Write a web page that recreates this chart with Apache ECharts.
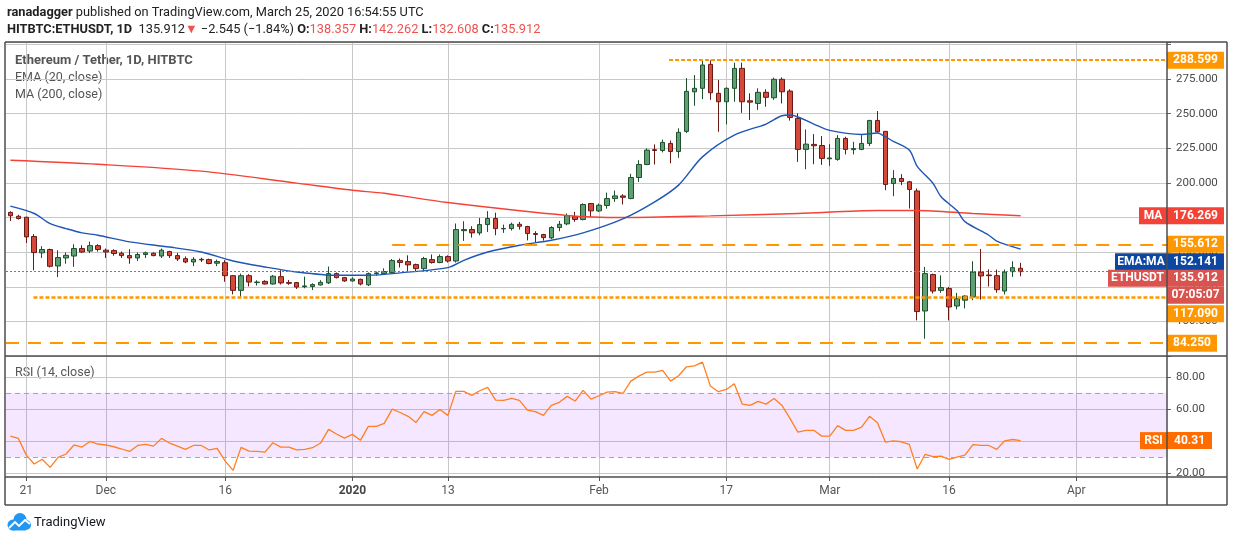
<!DOCTYPE html>
<html>
<head>
<meta charset="utf-8">
<title>Ethereum / Tether, 1D, HITBTC</title>
<script src="https://cdn.jsdelivr.net/npm/echarts@6/dist/echarts.min.js"></script>
<style>
html, body { margin: 0; padding: 0; background: #fff; }
#chart { width: 1234px; height: 541px; }
</style>
</head>
<body>
<div id="chart"></div>
<script>
var chart = echarts.init(document.getElementById('chart'));

// one candle per day, starting here
var firstDay = '2019-11-19';

var opens = [178.7, 175.9, 175.2, 161.3, 149.5, 151.9, 140, 145.8, 147.2, 152.6, 150.8, 154.7,
    151.4, 151.1, 149.2, 147.5, 145.8, 148.3, 149.2, 147.2, 150.4, 147.5, 145.3, 142.9, 144.8, 144.6, 142,
    142.4, 133, 122.4, 133, 128, 128.9, 127, 132.3, 128, 128, 125, 125.2, 126.3, 127.8, 134.5, 131.6,
    129.2, 130.4, 126.4, 134.5, 134.5, 135.2, 143.9, 143.2, 141, 138.1, 144.6, 142.5, 146.8, 143.6, 165.5,
    166.3, 163.9, 169.9, 174.3, 166.8, 167, 170.1, 168.5, 163.4, 162.7, 160.3, 167.8, 170.4, 175.7, 173.6, 185.1,
    179.8, 183.7, 188.7, 190.6, 188.7, 203.9, 213.3, 224, 223.4, 228.5, 222.7, 237.2, 265.8, 268.3, 285.6,
    264.7, 258.6, 268.3, 282.7, 259.3, 257.4, 265.4, 261.5, 274.8, 266.3, 246.6, 224.2, 227.8, 227,
    217.4, 217, 232.1, 224, 224.2, 228.5, 245.1, 237.2, 199.6, 203.2, 200.8, 194.2, 107.5, 133.8, 122.4,
    123.7, 111.1, 115.3, 117.6, 135.6, 133.5, 133, 121.9, 135.9, 138.357];
var highs = [179.5, 177, 175.5, 163, 154.3, 152.5, 151.4, 149.8, 155.7, 155, 157.6, 155.7,
    152.6, 152.1, 150.5, 152.1, 149.8, 150.4, 149.8, 152.6, 151, 149.5, 146.9, 146.4, 146, 145.3, 144.6,
    144.2, 133.5, 134.5, 134.1, 129.7, 129.7, 133.5, 136.9, 129.9, 128.5, 132.3, 127.5, 129.7, 139.6, 135.3, 132.1,
    131.8, 130.8, 135.3, 136, 138.3, 145, 145.4, 147.7, 141.7, 146.6, 148.3, 148.3, 147.7, 170.7, 172.3,
    168.7, 174.7, 179.6, 178.5, 169.9, 171.3, 171.8, 169, 165.1, 163.2, 168.7, 172.5, 177.9, 179.1, 185.2, 185.5,
    185.1, 193, 194.5, 191.8, 206.6, 216.4, 224.9, 227.8, 231.3, 230.6, 239.4, 275.7, 277.9, 288.2, 288.6,
    274.3, 269, 286.8, 286.8, 264.7, 268.3, 267.6, 276, 276.2, 267.6, 250.2, 238.6, 235.2, 233.8,
    228, 234.5, 233.3, 229.7, 234.5, 245.5, 251.9, 237.5, 209.2, 206.3, 201.5, 196, 139.3, 134.5, 133.3,
    124.9, 120.6, 118.8, 143.4, 152.3, 137.6, 137.4, 137.4, 143.4, 142.262];
var lows = [172.5, 173.5, 156.6, 136.9, 145.8, 138.9, 132, 141.6, 139.4, 149.4, 149.4, 150.4,
    145.8, 147.4, 145.8, 141.6, 143.6, 145.8, 147, 145.8, 145.8, 143.6, 142, 139.9, 142.9, 141.2, 139.9,
    128.6, 119.5, 117.2, 125.2, 125.9, 126.6, 126.6, 126.6, 126.4, 123.4, 123.9, 122.6, 125.9, 127, 131, 128.6,
    128.7, 126, 125.5, 133, 134, 134.5, 138.9, 135.7, 136, 136.2, 141.7, 142, 142.5, 142.5, 158.1,
    160.5, 162.2, 164.6, 162.2, 163.9, 165.6, 166.3, 158.5, 156.9, 158.3, 159.5, 165.1, 169.4, 171.9, 172.9, 175.4,
    179, 181.4, 186.3, 184.4, 188.2, 200.7, 212.8, 213.3, 222, 214.2, 218.1, 236, 255.7, 260.5, 260,
    236.9, 242.2, 258.6, 250.6, 245.4, 252.7, 255, 260, 257.4, 245, 215.2, 209.9, 213.5, 213,
    212.3, 216, 220.6, 220.6, 223.6, 226.6, 236.2, 194.7, 190.4, 198.4, 181.5, 100.7, 87.5, 120.1, 120.6,
    100.7, 108.7, 109.4, 115.3, 115.7, 125.2, 120.7, 119.4, 132.1, 132.608];
var closes = [176.3, 174.3, 161, 149.7, 151.9, 139.8, 146.1, 147.7, 152.6, 150.1, 154.7, 151.9,
    150.1, 149, 147.5, 145.8, 148.3, 149.5, 147.5, 151.4, 147.5, 145.1, 142.9, 144.8, 144.4, 141.8, 143.2,
    133, 122.4, 133, 128.4, 128.4, 127, 132.6, 127.8, 127.5, 124.8, 125.6, 126.6, 128.2, 134.5, 131.6, 129.2,
    130.6, 127, 134.5, 135, 136, 143.9, 142.5, 140.8, 138.1, 145.4, 142.5, 146.8, 143.6, 166.3, 166.3,
    163.9, 169.9, 174.3, 167, 167.1, 170.1, 168.7, 163.4, 162.8, 160.5, 167.8, 170.1, 176.4, 173.6, 184.4, 179.8,
    183.9, 188.7, 190.6, 189.6, 203.9, 213.3, 223.7, 223.4, 229.2, 222.7, 236.5, 266.1, 268.3, 285.1, 265.1,
    258.6, 268.3, 282.7, 258.6, 258.3, 265.4, 261.8, 274.8, 265.8, 247.3, 224.2, 228, 226.8, 217.7,
    218, 232.1, 224.2, 224.8, 228.5, 245.1, 236.9, 198.9, 203.2, 201, 195.3, 107.1, 134.5, 121.9, 124.4,
    110.4, 116.4, 118.3, 135.6, 132.8, 133, 122.9, 135.6, 138.8, 135.912];

var rsiValues = [43.1, 41.7, 31.3, 25.8, 28.7, 23.7, 29.9, 32, 37.6, 36.3, 39.8, 38.2,
    37.6, 36.5, 35.1, 33.6, 37.3, 38, 36.9, 41.7, 38.8, 36.9, 34.9, 37.3, 37.3, 34.5, 35.5,
    27.6, 21.8, 36.1, 33.8, 33.6, 33.2, 39, 36.3, 36.3, 34.5, 34.9, 35.9, 38.8, 47.3, 44.4, 41.9,
    44.2, 40.5, 49.2, 49.2, 51, 59.9, 57.8, 55.4, 51.6, 58.3, 56, 59.7, 56, 70.9, 70.9,
    68.4, 71.3, 73.4, 65.5, 65.3, 66.5, 65.3, 59.3, 58.3, 56, 62.2, 64.1, 67.8, 64.9, 71.5, 66.1,
    68.2, 70.5, 70.7, 69.6, 77.3, 80.4, 82.9, 82.9, 83.9, 77.3, 80.6, 86.2, 86.8, 89.1, 74.2,
    70.7, 72.1, 75.7, 63, 62.2, 64.7, 63, 66.5, 62.2, 54.1, 45.6, 46.7, 46.7, 43.1,
    43.1, 49.6, 46.7, 46.7, 48.7, 55.4, 51.4, 39.4, 40.2, 39.6, 38, 22.7, 31.8, 30.3, 30.7,
    28.7, 30.1, 31.3, 37.8, 37.3, 37.3, 34.9, 40.2, 41, 40.31];

// EMA (20) and MA (200) at these day indices
var emaDays = [0, 3, 5, 7, 9, 11, 15, 20, 24, 28, 32, 36, 41, 45, 49, 55, 57, 60, 64, 68, 72, 77, 81, 84, 87,
    91, 95, 97, 98, 101, 103, 107, 109, 110, 111, 113, 114, 116, 117, 119, 120, 123, 124, 127];
var emaValues = [183.2, 177.9, 170.6, 167, 163.9, 162.2, 157.4, 153.7, 150.1, 143.6, 139.3, 135.7, 133.3,
    133.3, 135, 138.8, 144.1, 150.1, 155, 158.6, 163.9, 174, 186.3, 198.4, 218.8, 234.5, 242.5, 248.5, 249,
    242.5, 237.9, 235, 236, 233.3, 230, 223.7, 212, 199.6, 190, 180, 172, 162.2, 158, 152.141];
var maDays = [0, 11, 24, 36, 43, 47, 55, 70, 77, 88, 99, 109, 114, 121, 127];
var maValues = [216.4, 213.5, 208.5, 199.8, 194.7, 192.5, 185.8, 176.5, 175, 176.2, 177.9, 180.1, 180.1,
    177.9, 176.269];

var tickDates = ['2019-11-21', '2019-12-01', '2019-12-16', '2020-01-01', '2020-01-13', '2020-02-01',
    '2020-02-17', '2020-03-01', '2020-03-16', '2020-04-01'];
var tickLabels = ['21', 'Dec', '16', '2020', '13', 'Feb', '17', 'Mar', '16', 'Apr'];
var priceLabels = [100, 125, 150, 175, 200, 225, 250, 275];
var rsiTicks = [20, 40, 60, 80];

// horizontal levels drawn on the chart, and the day where each one starts
var levelValues = [288.599, 155.612, 117.09, 84.25];
var levelFrom = [82.8, 48, 2.9, null];
var lastClose = 135.912;
var countdown = '07:05:07';

var xMin = -0.55, xMax = 145.4;

function dayIndex(d) {
    return Math.round((Date.parse(d) - Date.parse(firstDay)) / 86400000);
}
var tickDays = tickDates.map(dayIndex);

var candleData = opens.map(function (o, i) { return [i, o, closes[i], lows[i], highs[i]]; });
var rsiData = rsiValues.map(function (v, i) { return [i, v]; });
var emaData = emaDays.map(function (d, i) { return [d, emaValues[i]]; });
var maData = maDays.map(function (d, i) { return [d, maValues[i]]; });

var ORANGE = '#ff9800';
var FONT = 'Roboto';

function gridLine() {
    return { show: true, lineStyle: { color: '#c8c8c8', width: 1 } };
}

// tag on the price scale: optional name box left of the axis, value box right of it
function tagLabel(value, color, o) {
    o = o || {};
    var box = {
        color: '#fff', fontWeight: 'bold', fontSize: 12, fontFamily: FONT,
        backgroundColor: color, height: 17, lineHeight: 17, align: 'center'
    };
    var rich = {
        v: echarts.util.extend({ width: o.w || 57 }, box),
        n: echarts.util.extend({ width: o.nw || 0 }, box),
        c: echarts.util.extend({ width: 57 }, box),
        g: { fontSize: 1, height: o.gap || 1, lineHeight: o.gap || 1 },
        s: { fontSize: 1, width: o.nw || 0, height: 17, lineHeight: 17 }
    };
    var txt = (o.name ? '{n|' + o.name + '}' : '') + '{v|' + value + '}';
    if (o.sub) txt += '\n{s| }{c|' + o.sub + '}';
    if (o.gap) txt = '{g| }\n' + txt;
    return {
        show: true, position: 'end', distance: o.nw ? -o.nw : 0,
        formatter: txt, rich: rich, padding: 0
    };
}

function levelLine(i, dash, width, label) {
    var v = levelValues[i];
    var style = { color: ORANGE, type: dash, width: width };
    if (levelFrom[i] == null) {
        return { yAxis: v, lineStyle: style, label: label };
    }
    return [
        { coord: [levelFrom[i], v], lineStyle: style, label: label },
        { coord: [xMax, v] }
    ];
}

function xAxisFor(g) {
    var bottom = g === 1;
    return {
        type: 'value', gridIndex: g, min: xMin, max: xMax,
        axisLine: { show: false, onZero: false },
        axisTick: { show: true, customValues: tickDays, length: bottom ? 4 : 0, lineStyle: { color: '#555' } },
        axisLabel: {
            show: bottom, customValues: tickDays, margin: 8, color: '#555', fontSize: 12, fontFamily: FONT,
            formatter: function (v) {
                var k = tickDays.indexOf(Math.round(v));
                if (k < 0) return '';
                return tickLabels[k] === '2020' ? '{y|2020}' : tickLabels[k];
            },
            rich: { y: { fontWeight: 'bold', color: '#444', fontSize: 12, fontFamily: FONT } }
        },
        splitLine: gridLine()
    };
}

var option = {
    animation: false,
    grid: [
        { left: 6, right: 67, top: 42, height: 314 },
        { left: 6, right: 67, top: 356, height: 121 }
    ],
    xAxis: [xAxisFor(0), xAxisFor(1)],
    yAxis: [
        {
            type: 'value', gridIndex: 0, position: 'right', min: 75, max: 301.75, interval: 25,
            axisLine: { show: false, onZero: false },
            axisTick: { show: true, length: 4, lineStyle: { color: '#666' } },
            axisLabel: {
                margin: 9, color: '#4a4a4a', fontSize: 11.5, fontFamily: FONT,
                formatter: function (v) { return priceLabels.indexOf(v) >= 0 ? v.toFixed(3) : ''; }
            },
            splitLine: gridLine()
        },
        {
            type: 'value', gridIndex: 1, position: 'right', min: 17.7, max: 92.9,
            axisLine: { show: false, onZero: false },
            axisTick: { show: true, customValues: rsiTicks, length: 4, lineStyle: { color: '#666' } },
            axisLabel: {
                customValues: rsiTicks, margin: 9, color: '#4a4a4a', fontSize: 11.5, fontFamily: FONT,
                formatter: function (v) { return v.toFixed(2); }
            },
            splitLine: gridLine()
        }
    ],
    series: [
        {
            name: 'MA', type: 'line', xAxisIndex: 0, yAxisIndex: 0, data: maData,
            showSymbol: false, smooth: 0.3, lineStyle: { color: '#f44336', width: 1.4 },
            markLine: {
                silent: true, symbol: 'none',
                data: [{
                    yAxis: maValues[maValues.length - 1],
                    lineStyle: { color: 'rgba(0,0,0,0)' },
                    label: tagLabel(maValues[maValues.length - 1].toFixed(3), '#f44336', { name: 'MA', nw: 28 })
                }]
            }
        },
        {
            name: 'EMA', type: 'line', xAxisIndex: 0, yAxisIndex: 0, data: emaData,
            showSymbol: false, smooth: 0.3, lineStyle: { color: '#1f56b6', width: 1.4 },
            markLine: {
                silent: true, symbol: 'none',
                data: [{
                    yAxis: emaValues[emaValues.length - 1],
                    lineStyle: { color: 'rgba(0,0,0,0)' },
                    label: tagLabel(emaValues[emaValues.length - 1].toFixed(3), '#0d47a1', { name: 'EMA:MA', nw: 52, gap: 25 })
                }]
            }
        },
        {
            name: 'ETHUSDT', type: 'candlestick', xAxisIndex: 0, yAxisIndex: 0,
            data: candleData, encode: { x: 0, y: [1, 2, 3, 4] },
            barWidth: 5,
            itemStyle: {
                color: '#5e9f73', color0: '#d5493b',
                borderColor: '#1f4f2d', borderColor0: '#6a1a14', borderWidth: 1
            },
            markLine: {
                silent: true, symbol: 'none',
                data: [
                    levelLine(0, [4, 2], 2, tagLabel('288.599', ORANGE)),
                    levelLine(1, [13, 9], 2, tagLabel('155.612', ORANGE)),
                    levelLine(2, [4, 2], 2.5, tagLabel('117.090', ORANGE, { gap: 32 })),
                    levelLine(3, [13, 9], 2, tagLabel('84.250', ORANGE, { w: 50 })),
                    {
                        yAxis: lastClose,
                        lineStyle: { color: '#d9534f', type: [2, 2], width: 1 },
                        label: tagLabel(lastClose.toFixed(3), '#d9534f', { name: 'ETHUSDT', nw: 59, gap: 30, sub: countdown })
                    }
                ]
            }
        },
        {
            name: 'RSI', type: 'line', xAxisIndex: 1, yAxisIndex: 1, data: rsiData,
            showSymbol: false, lineStyle: { color: '#ff7f22', width: 1.3 },
            markArea: {
                silent: true,
                itemStyle: { color: 'rgba(153,21,255,0.1)' },
                data: [[{ yAxis: 30 }, { yAxis: 70 }]]
            },
            markLine: {
                silent: true, symbol: 'none',
                data: [
                    { yAxis: 70, lineStyle: { color: '#aaa2b4', type: [5, 4], width: 1 }, label: { show: false } },
                    { yAxis: 30, lineStyle: { color: '#aaa2b4', type: [5, 4], width: 1 }, label: { show: false } },
                    {
                        yAxis: rsiValues[rsiValues.length - 1],
                        lineStyle: { color: 'rgba(0,0,0,0)' },
                        label: tagLabel(rsiValues[rsiValues.length - 1].toFixed(2), '#ff6d00', { name: 'RSI', nw: 27, w: 45 })
                    }
                ]
            }
        }
    ],
    graphic: [
        {
            type: 'text', x: 7, y: 13, silent: true,
            style: {
                text: '{b|ranadagger} published on TradingView.com, March 25, 2020 16:54:55 UTC',
                fill: '#222', fontSize: 12.8, fontFamily: FONT, verticalAlign: 'middle',
                rich: { b: { fontWeight: 'bold', fontSize: 12.8, fontFamily: FONT, fill: '#222' } }
            }
        },
        {
            type: 'text', x: 7, y: 30, silent: true,
            style: {
                text: '{b|HITBTC:ETHUSDT, 1D}  135.912{r|▼} \u22122.545 (\u22121.84%) {b|O:}{r|138.357} {b|H:}{r|142.262} {b|L:}{r|132.608} {b|C:}{r|135.912}',
                fill: '#222', fontSize: 12.8, fontFamily: FONT, verticalAlign: 'middle',
                rich: {
                    b: { fontWeight: 'bold', fontSize: 12.8, fontFamily: FONT, fill: '#222' },
                    r: { fontSize: 12.8, fontFamily: FONT, fill: '#ef5350' }
                }
            }
        },
        {
            type: 'text', x: 15, y: 61, silent: true,
            style: { text: 'Ethereum / Tether, 1D, HITBTC', fill: '#555', fontSize: 13, fontWeight: 'bold', fontFamily: FONT, verticalAlign: 'middle' }
        },
        {
            type: 'text', x: 15, y: 78, silent: true,
            style: { text: 'EMA (20, close)', fill: '#555', fontSize: 12.5, fontFamily: FONT, verticalAlign: 'middle' }
        },
        {
            type: 'text', x: 15, y: 95, silent: true,
            style: { text: 'MA (200, close)', fill: '#555', fontSize: 12.5, fontFamily: FONT, verticalAlign: 'middle' }
        },
        {
            type: 'text', x: 15, y: 373, silent: true,
            style: { text: 'RSI (14, close)', fill: '#555', fontSize: 12.5, fontFamily: FONT, verticalAlign: 'middle' }
        },
        // chart frame
        { type: 'line', silent: true, z: 100, shape: { x1: 5, y1: 42, x2: 1227, y2: 42 }, style: { stroke: '#4d4d4d', lineWidth: 1.5 } },
        { type: 'line', silent: true, z: 100, shape: { x1: 5, y1: 505, x2: 1227, y2: 505 }, style: { stroke: '#4d4d4d', lineWidth: 1.5 } },
        { type: 'line', silent: true, z: 100, shape: { x1: 5, y1: 42, x2: 5, y2: 505 }, style: { stroke: '#4d4d4d', lineWidth: 1.5 } },
        { type: 'line', silent: true, z: 100, shape: { x1: 1227, y1: 42, x2: 1227, y2: 505 }, style: { stroke: '#4d4d4d', lineWidth: 1.5 } },
        { type: 'line', silent: true, z: 100, shape: { x1: 1167, y1: 42, x2: 1167, y2: 505 }, style: { stroke: '#4d4d4d', lineWidth: 1.5 } },
        { type: 'line', silent: true, z: 100, shape: { x1: 5, y1: 356, x2: 1227, y2: 356 }, style: { stroke: '#4d4d4d', lineWidth: 1.5 } },
        { type: 'line', silent: true, z: 100, shape: { x1: 5, y1: 477, x2: 1227, y2: 477 }, style: { stroke: '#4d4d4d', lineWidth: 1.5 } },
        // TradingView logo
        { type: 'circle', silent: true, shape: { cx: 13, cy: 525, r: 5.5 }, style: { fill: '#2196f3' } },
        { type: 'circle', silent: true, shape: { cx: 20, cy: 519.5, r: 6.5 }, style: { fill: '#2196f3' } },
        { type: 'circle', silent: true, shape: { cx: 26, cy: 525, r: 5 }, style: { fill: '#2196f3' } },
        { type: 'rect', silent: true, shape: { x: 13, y: 524, width: 13, height: 6.5 }, style: { fill: '#2196f3' } },
        {
            type: 'polyline', silent: true, shape: { points: [[9, 528], [15, 522], [19, 526], [25, 520], [30, 524]] },
            style: { stroke: '#fff', lineWidth: 1.8, fill: 'none' }
        },
        {
            type: 'text', x: 34, y: 523, silent: true,
            style: { text: 'TradingView', fill: '#131722', fontSize: 13, fontFamily: FONT, verticalAlign: 'middle' }
        }
    ]
};

chart.setOption(option);
window.addEventListener('resize', function () {
    chart.resize();
});
</script>
</body>
</html>
